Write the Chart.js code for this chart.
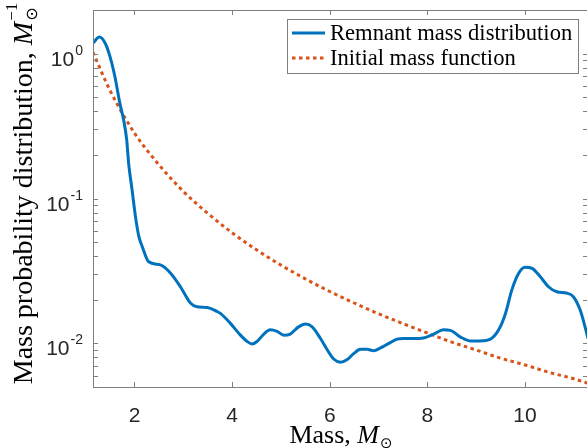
<!DOCTYPE html>
<html>
<head>
<meta charset="utf-8">
<script src="https://cdn.jsdelivr.net/npm/chart.js@4.4.1/dist/chart.umd.min.js"></script>
<style>
  html, body { margin: 0; padding: 0; background: #fff; overflow: hidden; }
  #wrap { width: 587px; height: 448px; overflow: hidden; }
  canvas { display: block; }
</style>
</head>
<body>
<div id="wrap"><canvas id="myChart" width="592" height="448"></canvas></div>
<script>
// masa en masas solares, densidad de probabilidad
const remnantMass = [1.15, 1.28, 1.40, 1.50, 1.60, 1.70, 1.78, 1.84, 1.88, 1.95, 2.02, 2.09, 2.16, 2.29,
  2.53, 2.74, 2.94, 3.15, 3.28, 3.49, 3.69, 3.76, 3.96, 4.17, 4.31, 4.41, 4.51, 4.65, 4.78, 4.92,
  5.06, 5.19, 5.36, 5.50, 5.64, 5.81, 5.95, 6.08, 6.22, 6.35, 6.49, 6.63, 6.76, 6.90, 7.04, 7.21,
  7.38, 7.51, 7.72, 7.92, 8.13, 8.33, 8.47, 8.67, 8.88, 9.08, 9.29, 9.46, 9.60, 9.73, 9.87, 10.00,
  10.14, 10.31, 10.48, 10.65, 10.86, 10.99, 11.13, 11.23, 11.29];
const remnantProb = [1.18, 1.30, 1.18, 0.95, 0.69, 0.455, 0.345, 0.255, 0.175, 0.115, 0.075, 0.0545, 0.0465, 0.0366,
  0.0348, 0.0305, 0.0246, 0.0189, 0.0179, 0.0177, 0.0166, 0.0161, 0.0138, 0.0114, 0.0103, 0.0099, 0.0103, 0.0116, 0.0124, 0.0121,
  0.0114, 0.0116, 0.0130, 0.0136, 0.0130, 0.0108, 0.0090, 0.0078, 0.0074, 0.0077, 0.0085, 0.0091, 0.0091, 0.0089, 0.0093, 0.0100,
  0.0107, 0.0108, 0.0108, 0.0109, 0.0116, 0.0124, 0.0123, 0.0111, 0.0104, 0.0104, 0.0107, 0.0124, 0.0161, 0.0234, 0.0305, 0.0335,
  0.0330, 0.0289, 0.0246, 0.0227, 0.0222, 0.0210, 0.0170, 0.0130, 0.0108];
const imfMass = [1.15, 1.5, 2, 2.5, 3, 3.5, 4, 4.5, 5, 5.5, 6, 6.5, 7, 7.5, 8, 8.5, 9, 9.5, 10, 10.5, 11, 11.29];
const imfProb = [1.02, 0.555, 0.283, 0.171, 0.112, 0.079, 0.058, 0.0442, 0.0347, 0.0279, 0.0228, 0.0190, 0.0160,
  0.0137, 0.0118, 0.0102, 0.0090, 0.0079, 0.0071, 0.0063, 0.0057, 0.0053];
const xTicks = [2, 4, 6, 8, 10];
const yTicks = [0.01, 0.1, 1];
const yTickExp = ["-2", "-1", "0"];
const labels = ["Remnant mass distribution", "Initial mass function"];

const azul = "#0072BD";
const naranjo = "#D95319";
const gris = "#262626";

function linea(ctx, x1, y1, x2, y2) {
  ctx.beginPath();
  ctx.moveTo(x1, y1);
  ctx.lineTo(x2, y2);
  ctx.stroke();
}

// ejes estilo matlab: caja, ticks hacia adentro, etiquetas y leyenda
const ejes = {
  id: "ejes",
  afterDraw(chart) {
    const ctx = chart.ctx;
    const a = chart.chartArea;
    const sx = chart.scales.x;
    const sy = chart.scales.y;
    ctx.save();
    ctx.strokeStyle = "#7f7f7f";
    ctx.lineWidth = 1;
    ctx.strokeRect(Math.round(a.left) + 0.5, Math.round(a.top) + 0.5, Math.round(a.right - a.left), Math.round(a.bottom - a.top));
    const tl = 5;
    xTicks.forEach((v) => {
      const px = Math.round(sx.getPixelForValue(v)) + 0.5;
      linea(ctx, px, a.bottom, px, a.bottom - tl);
      linea(ctx, px, a.top, px, a.top + tl);
    });
    for (let d = -3; d <= 0; d++) {
      for (let k = 1; k <= 9; k++) {
        const v = k * Math.pow(10, d);
        if (v < sy.min || v > sy.max) continue;
        const py = Math.round(sy.getPixelForValue(v)) + 0.5;
        linea(ctx, a.left, py, a.left + tl, py);
        linea(ctx, a.right, py, a.right - tl, py);
      }
    }

    // etiquetas del eje y: 10 con exponente
    ctx.fillStyle = gris;
    yTicks.forEach((v, i) => {
      const py = sy.getPixelForValue(v);
      ctx.font = "14px 'Liberation Sans'";
      ctx.textAlign = "right";
      ctx.textBaseline = "alphabetic";
      const we = ctx.measureText(yTickExp[i]).width;
      const right = a.left - 10;
      ctx.fillText(yTickExp[i], right, py + 1);
      ctx.font = "21px 'Liberation Sans'";
      ctx.fillText("10", right - we - 1, py + 12);
    });

    // titulo eje x
    ctx.fillStyle = "#000";
    ctx.textAlign = "left";
    ctx.textBaseline = "alphabetic";
    const f1 = "26px 'Liberation Serif'";
    const fi = "italic 26px 'Liberation Serif'";
    const fs = "15px 'DejaVu Sans'";
    ctx.font = f1; const w1 = ctx.measureText("Mass, ").width;
    ctx.font = fi; const w2 = ctx.measureText("M").width;
    ctx.font = fs; const w3 = ctx.measureText("\u2299").width;
    let x0 = (a.left + a.right) / 2 - (w1 + w2 + w3) / 2;
    const by = 443;
    ctx.font = f1; ctx.fillText("Mass, ", x0, by);
    ctx.font = fi; ctx.fillText("M", x0 + w1, by);
    ctx.font = fs; ctx.fillText("\u2299", x0 + w1 + w2 + 1, by + 5);

    // titulo eje y (rotado)
    const g1 = "28px 'Liberation Serif'";
    const gi = "italic 28px 'Liberation Serif'";
    const gs = "16px 'DejaVu Sans'";
    const gp = "17px 'Liberation Serif'";
    ctx.save();
    ctx.translate(32, 194);
    ctx.rotate(-Math.PI / 2);
    const t1 = "Mass probability distribution, ";
    ctx.font = g1; const v1 = ctx.measureText(t1).width;
    ctx.font = gi; const v2 = ctx.measureText("M").width;
    ctx.font = gs; const v3 = ctx.measureText("\u2299").width;
    ctx.font = gp; const v4 = ctx.measureText("\u22121").width;
    const s0 = -(v1 + v2 + Math.max(v3, v4)) / 2;
    ctx.font = g1; ctx.fillText(t1, s0, 0);
    ctx.font = gi; ctx.fillText("M", s0 + v1, 0);
    ctx.font = gs; ctx.fillText("\u2299", s0 + v1 + v2 + 1, 5);
    ctx.font = gp; ctx.fillText("\u22121", s0 + v1 + v2 + 1, -15);
    ctx.restore();

    // leyenda
    const lx = 287.5, ly = 19.5, lw = 291, lh = 54;
    ctx.fillStyle = "#fff";
    ctx.fillRect(lx, ly, lw, lh);
    ctx.strokeStyle = "#7f7f7f";
    ctx.lineWidth = 1;
    ctx.strokeRect(lx, ly, lw, lh);
    chart.data.datasets.forEach((ds, i) => {
      const yy = 33 + i * 25;
      ctx.strokeStyle = ds.borderColor;
      ctx.lineWidth = ds.borderWidth;
      ctx.setLineDash(ds.borderDash || []);
      linea(ctx, 292, yy, 325, yy);
      ctx.setLineDash([]);
      ctx.fillStyle = "#000";
      ctx.font = "22.6px 'Liberation Serif'";
      ctx.fillText(ds.label, 330, yy + 6.5);
    });
    ctx.restore();
  }
};

const data = {
  datasets: [
    {
      label: labels[0],
      data: remnantMass.map((m, i) => ({ x: m, y: remnantProb[i] })),
      borderColor: azul,
      borderWidth: 3,
      pointRadius: 0,
      cubicInterpolationMode: "monotone",
    },
    {
      label: labels[1],
      data: imfMass.map((m, i) => ({ x: m, y: imfProb[i] })),
      borderColor: naranjo,
      borderWidth: 3,
      borderDash: [3.5, 3.5],
      borderCapStyle: "butt",
      pointRadius: 0,
      cubicInterpolationMode: "monotone",
    },
  ],
};

const config = {
  type: "line",
  data,
  plugins: [ejes],
  options: {
    responsive: false,
    animation: false,
    events: [],
    layout: { padding: { left: 0, top: 10, right: 4, bottom: 0 } },
    plugins: { legend: { display: false }, tooltip: { enabled: false } },
    scales: {
      x: {
        type: "linear",
        min: 1.15,
        max: 11.29,
        grid: { display: false },
        border: { display: false },
        afterBuildTicks: (s) => { s.ticks = xTicks.map((v) => ({ value: v })); },
        afterFit: (s) => { s.height = 61; },
        ticks: {
          autoSkip: false,
          maxRotation: 0,
          padding: 9,
          color: gris,
          font: { family: "'Liberation Sans'", size: 21 },
          callback: (v) => String(v),
        },
      },
      y: {
        type: "logarithmic",
        min: 0.005,
        max: 2,
        grid: { display: false },
        border: { display: false },
        ticks: { display: false },
        afterFit: (s) => { s.width = 93; },
      },
    },
  },
};

let myChart = document.getElementById("myChart");
new Chart(myChart, config);
</script>
</body>
</html>
